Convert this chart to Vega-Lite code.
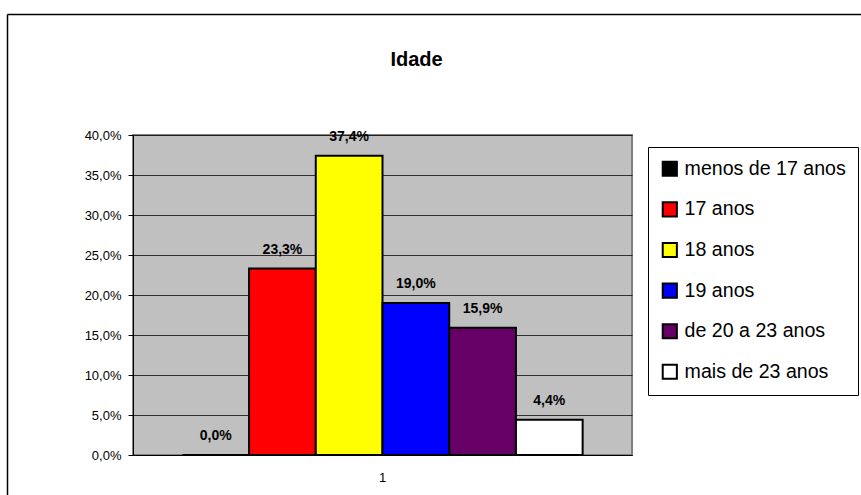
{
  "$schema": "https://vega.github.io/schema/vega-lite/v6.json",
  "autosize": {"type": "none"},
  "padding": {"left": 133, "top": 135, "right": 229, "bottom": 40},
  "width": 499,
  "height": 320,
  "background": "white",
  "title": {
    "text": "Idade",
    "fontSize": 20,
    "fontWeight": "bold",
    "font": "Liberation Sans",
    "color": "#000",
    "anchor": "middle",
    "frame": "group",
    "baseline": "alphabetic",
    "dx": 34,
    "offset": -72
  },
  "data": {
    "values": [
      {"cat": "1", "faixa": "menos de 17 anos", "pct": 0.0},
      {"cat": "1", "faixa": "17 anos", "pct": 0.233},
      {"cat": "1", "faixa": "18 anos", "pct": 0.374},
      {"cat": "1", "faixa": "19 anos", "pct": 0.19},
      {"cat": "1", "faixa": "de 20 a 23 anos", "pct": 0.159},
      {"cat": "1", "faixa": "mais de 23 anos", "pct": 0.044}
    ]
  },
  "layer": [
    {
      "encoding": {
        "x": {
          "field": "cat",
          "type": "nominal",
          "scale": {"paddingInner": 0, "paddingOuter": 0},
          "axis": {
            "orient": "bottom",
            "title": null,
            "labelAngle": 0,
            "ticks": false,
            "domainColor": "#000",
            "domainWidth": 1,
            "labelFontSize": 13,
            "labelColor": "#000",
            "labelPadding": 16
          }
        },
        "xOffset": {
          "field": "faixa",
          "type": "nominal",
          "sort": ["menos de 17 anos", "17 anos", "18 anos", "19 anos", "de 20 a 23 anos", "mais de 23 anos"],
          "scale": {"paddingInner": 0, "paddingOuter": 0.74}
        },
        "y": {
          "field": "pct",
          "type": "quantitative",
          "scale": {"domain": [0, 0.4], "nice": false},
          "axis": {
            "orient": "left",
            "title": null,
            "format": ".1%",
            "values": [0, 0.05, 0.1, 0.15, 0.2, 0.25, 0.3, 0.35, 0.4],
            "grid": true,
            "gridColor": "#000",
            "gridWidth": 1,
            "gridOpacity": 0.75,
            "tickColor": "#000",
            "tickSize": 5,
            "domainColor": "#000",
            "domainWidth": 1,
            "labelFontSize": 13,
            "labelColor": "#000",
            "labelPadding": 7
          }
        }
      },
      "layer": [
        {
          "mark": {"type": "bar", "stroke": "#000", "strokeWidth": 2},
          "encoding": {
            "color": {
              "field": "faixa",
              "type": "nominal",
              "scale": {
                "domain": ["menos de 17 anos", "17 anos", "18 anos", "19 anos", "de 20 a 23 anos", "mais de 23 anos"],
                "range": ["#000000", "#FF0000", "#FFFF00", "#0000FF", "#660066", "#FFFFFF"]
              },
              "legend": {
                "title": null,
                "orient": "none",
                "legendX": 515,
                "legendY": 12,
                "strokeColor": "#000",
                "fillColor": "#fff",
                "padding": 12,
                "symbolType": "square",
                "symbolSize": 200,
                "symbolStrokeColor": "#000",
                "symbolStrokeWidth": 2,
                "labelFontSize": 19.6,
                "labelColor": "#000",
                "labelOffset": 5,
                "rowPadding": 17.6,
                "labelLimit": 400
              }
            }
          }
        },
        {
          "mark": {
            "type": "text",
            "fontSize": 14,
            "fontWeight": "bold",
            "color": "#000",
            "baseline": "alphabetic",
            "dy": -15
          },
          "encoding": {
            "text": {"field": "pct", "type": "quantitative", "format": ".1%"}
          }
        }
      ]
    },
    {
      "mark": {"type": "point", "opacity": 0},
      "encoding": {
        "x": {
          "field": "cat",
          "type": "nominal",
          "scale": {"range": [-126, 740]},
          "axis": {"orient": "top", "offset": 121, "labels": false, "ticks": false, "grid": false, "title": null, "domainColor": "#000", "domainWidth": 1.5}
        },
        "y": {
          "field": "pct",
          "type": "quantitative",
          "scale": {"range": [360, -121]},
          "axis": {"orient": "left", "offset": 126, "labels": false, "ticks": false, "grid": false, "title": null, "domainColor": "#000", "domainWidth": 1.5}
        }
      }
    }
  ],
  "resolve": {
    "scale": {"x": "independent", "y": "independent"},
    "axis": {"x": "independent", "y": "independent"}
  },
  "config": {
    "font": "Liberation Sans",
    "locale": {
      "number": {"decimal": ",", "thousands": ".", "grouping": [3], "currency": ["R$", ""]}
    },
    "view": {"fill": "#C0C0C0", "stroke": "#808080", "strokeWidth": 2}
  }
}
